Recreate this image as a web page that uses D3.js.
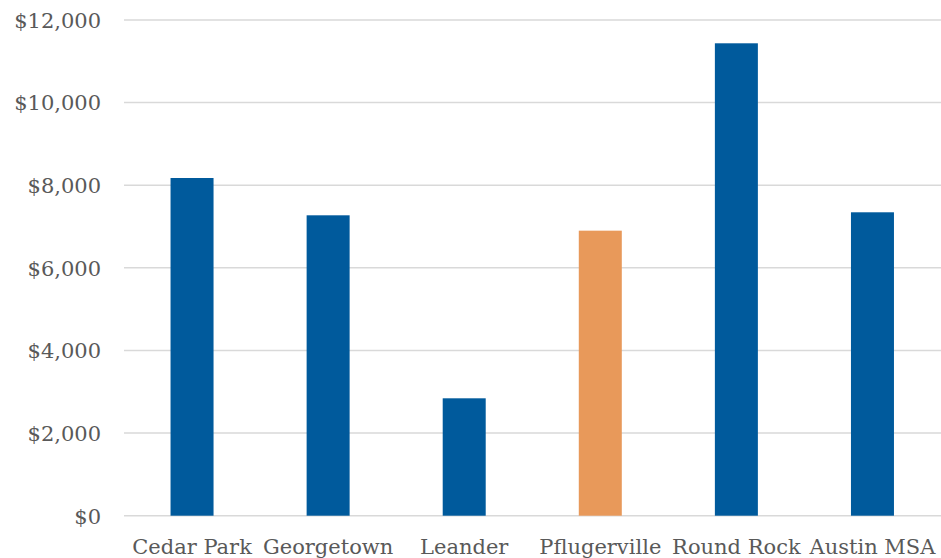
<!DOCTYPE html>
<html>
<head>
<meta charset="utf-8">
<script src="https://cdn.jsdelivr.net/npm/d3@7"></script>
<style>
  html, body { margin: 0; padding: 0; background: #fff; }
  svg { display: block; }
  text { font-family: Georgia, "DejaVu Serif", serif; fill: #595959; }
</style>
</head>
<body>
<svg id="chart" width="941" height="558"></svg>
<script>
// Per-city values
const categories = ["Cedar Park", "Georgetown", "Leander", "Pflugerville", "Round Rock", "Austin MSA"];
const values = [8175, 7272, 2842, 6900, 11436, 7345];
const highlight = ["Pflugerville"];
const yTicks = [0, 2000, 4000, 6000, 8000, 10000, 12000];

const svg = d3.select("#chart");
const margin = { left: 124, right: 0.5, top: 20, bottom: 42.3 };
const W = 941, H = 558;

const x = d3.scaleBand()
  .domain(categories)
  .range([margin.left, W - margin.right])
  .paddingInner(0.684)
  .paddingOuter(0.342);

const y = d3.scaleLinear()
  .domain([0, 12000])
  .range([H - margin.bottom, margin.top]);

const fmt = v => "$" + d3.format(",")(v);

// Horizontal gridlines
svg.append("g")
  .selectAll("line")
  .data(yTicks)
  .join("line")
  .attr("x1", margin.left)
  .attr("x2", W)
  .attr("y1", d => y(d))
  .attr("y2", d => y(d))
  .attr("stroke", "#d9d9d9")
  .attr("stroke-width", 1.5);

// Y axis labels
const yAxis = d3.axisLeft(y).tickValues(yTicks).tickFormat(fmt).tickSize(0).tickPadding(0);
const gy = svg.append("g")
  .attr("transform", `translate(101,0)`)
  .call(yAxis);
gy.select(".domain").remove();
gy.selectAll("text")
  .style("font-size", "21px")
  .attr("dy", "0.35em")
  .style("fill", "#595959");

// Bars
svg.append("g")
  .selectAll("rect")
  .data(categories)
  .join("rect")
  .attr("x", d => x(d))
  .attr("width", x.bandwidth())
  .attr("y", (d, i) => y(values[i]))
  .attr("height", (d, i) => y(0) - y(values[i]))
  .attr("fill", d => highlight.includes(d) ? "#E8995A" : "#005A9C");

// X axis labels
const xAxis = d3.axisBottom(x).tickSize(0).tickPadding(0);
const gx = svg.append("g")
  .attr("transform", `translate(0,${y(0)})`)
  .call(xAxis);
gx.select(".domain").remove();
gx.selectAll("text")
  .attr("y", 38)
  .attr("dy", 0)
  .style("font-size", "21px")
  .style("fill", "#595959");
</script>
</body>
</html>
